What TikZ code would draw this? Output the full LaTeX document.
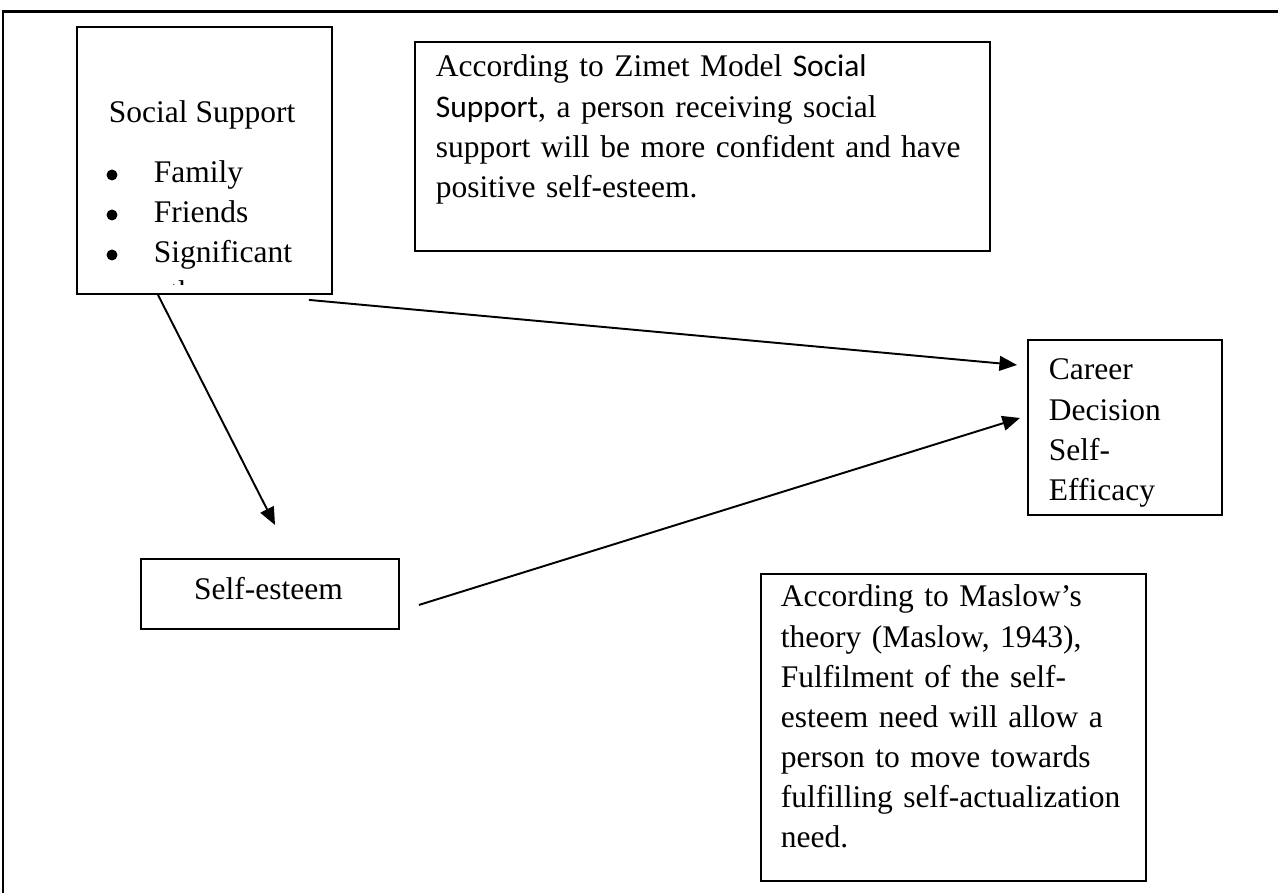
\documentclass[tikz,border=0pt]{standalone}
\usepackage{fontspec}
\setmainfont{Liberation Serif}
\newfontfamily\calibri{Carlito}
\usetikzlibrary{arrows.meta}

\newcommand{\boxfont}{\fontsize{8.96pt}{11.4pt}\selectfont}

\begin{document}
\begin{tikzpicture}[>={Triangle[length=5pt,width=4.2pt]}, line width=0.55pt,
    box/.style={draw, inner sep=0pt, anchor=north west},
    txt/.style={inner sep=0pt, anchor=base west, align=left, font=\boxfont}]
  \useasboundingbox (0,0) rectangle (12.78,8.93);
  % page frame (top and left edge only)
  \draw[line width=0.85pt] (12.78,8.81) -- (0.03,8.81) -- (0.03,0);

  % boxes
  \node[box, minimum width=2.55cm, minimum height=2.67cm] (social) at (0.76,8.67) {};
  \node[box, minimum width=5.75cm, minimum height=2.09cm] (zimet) at (4.14,8.52) {};
  \node[box, minimum width=1.94cm, minimum height=1.75cm] (career) at (10.27,5.54) {};
  \node[box, minimum width=2.58cm, minimum height=0.70cm] (selfesteem) at (1.40,3.35) {};
  \node[box, minimum width=3.85cm, minimum height=3.07cm] (maslow) at (7.60,3.20) {};

  % texts
  \node[txt] (social-t) at (1.08,7.70) {Social Support};
  \foreach \name/\y [count=\i] in {Family/7.10, Friends/6.70, Significant/6.30} {
    \fill (1.12,\y+0.08) circle (0.055);
    \node[txt] (item\i) at (1.53,\y) {\name};
  }
  % last line runs out of the box
  \begin{scope}
    \clip (0.76,6.085) rectangle (3.31,8.67);
    \node[txt] (item4) at (1.53,5.905) {others};
  \end{scope}
  \node[txt, text width=5.6cm] (zimet-t) at (4.35,8.16) {\boxfont According to Zimet Model {\calibri Social}\\
    {\calibri Support}, a person receiving social\\ support will be more confident and have\\ positive self-esteem.};
  \node[txt, text width=1.8cm] (career-t) at (10.48,5.13) {\boxfont Career\\ Decision\\ Self-\\ Efficacy};
  \node[txt, anchor=base] (selfesteem-t) at (2.685,2.93) {Self-esteem};
  \node[txt, text width=3.7cm] (maslow-t) at (7.80,2.86) {\boxfont According to Maslow’s\\ theory (Maslow, 1943),\\
    Fulfilment of the self-\\ esteem need will allow a\\ person to move towards\\ fulfilling self-actualization\\ need.};

  % links
  \coordinate (a1s) at ([shift={(0.82,0)}]social.south west);
  \coordinate (a1e) at ([shift={(1.35,0.33)}]selfesteem.north west);
  \coordinate (a2s) at ([shift={(-0.24,-0.05)}]social.south east);
  \coordinate (a2e) at ([shift={(-0.10,-0.26)}]career.north west);
  \coordinate (a3s) at ([shift={(0.19,-0.11)}]selfesteem.east);
  \coordinate (a3e) at ([shift={(-0.07,-0.79)}]career.north west);
  \draw[->] (a1s) -- (a1e);
  \draw[->] (a2s) -- (a2e);
  \draw[->] (a3s) -- (a3e);
\end{tikzpicture}
\end{document}
